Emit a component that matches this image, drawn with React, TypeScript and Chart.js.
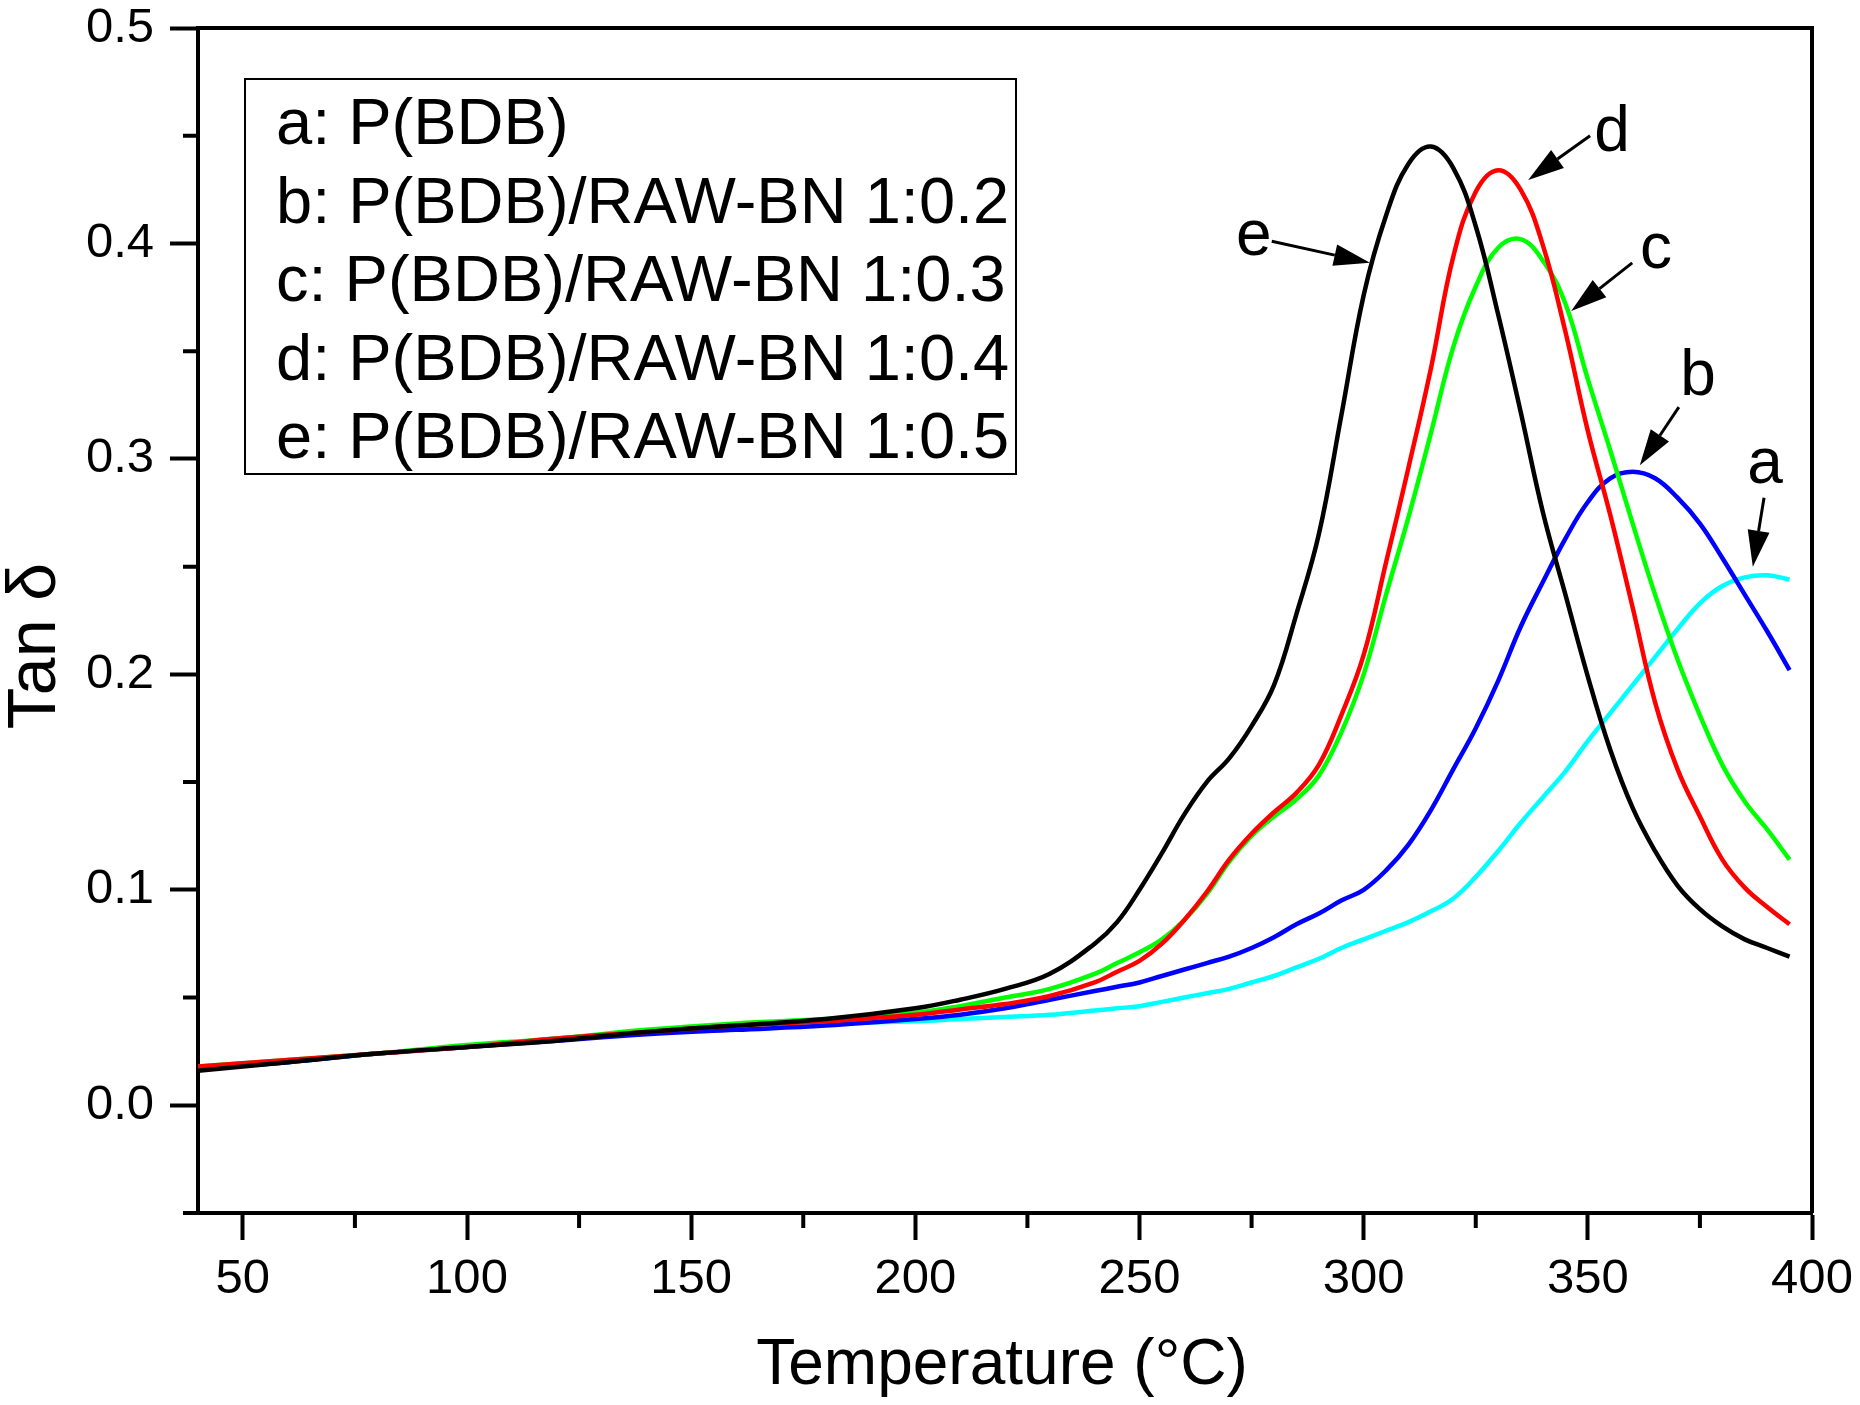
import React, { useEffect, useRef } from 'react';
import { Chart, registerables } from 'chart.js';

Chart.register(...registerables);

// temperature grid (°C) the curves were read on
const temperatures = [
  40, 60, 80, 100, 120, 140, 160, 180, 200, 210, 220, 230,
  240, 245, 250, 255, 260, 265, 270, 275, 280, 285, 290, 295,
  300, 305, 310, 315, 320, 325, 330, 335, 340, 345, 350, 355,
  360, 365, 370, 375, 380, 385, 390, 395,
];

// a: P(BDB)
const tanDeltaA = [
  0.017, 0.020, 0.024, 0.027, 0.031, 0.034, 0.036, 0.038, 0.039, 0.040, 0.041, 0.042,
  0.044, 0.045, 0.046, 0.048, 0.050, 0.052, 0.054, 0.057, 0.060, 0.064, 0.068, 0.073,
  0.077, 0.081, 0.085, 0.090, 0.096, 0.106, 0.118, 0.131, 0.143, 0.155, 0.169, 0.182,
  0.195, 0.208, 0.221, 0.233, 0.241, 0.245, 0.246, 0.244,
];

// b: 1:0.2
const tanDeltaB = [
  0.017, 0.020, 0.024, 0.027, 0.030, 0.033, 0.035, 0.037, 0.040, 0.042, 0.045, 0.049,
  0.053, 0.055, 0.057, 0.060, 0.063, 0.066, 0.069, 0.073, 0.078, 0.084, 0.089, 0.095,
  0.100, 0.109, 0.121, 0.137, 0.156, 0.175, 0.197, 0.222, 0.243, 0.263, 0.280, 0.291,
  0.294, 0.291, 0.282, 0.270, 0.254, 0.237, 0.220, 0.202,
];

// c: 1:0.3
const tanDeltaC = [
  0.018, 0.021, 0.024, 0.028, 0.031, 0.035, 0.038, 0.040, 0.043, 0.046, 0.050, 0.054,
  0.061, 0.066, 0.071, 0.077, 0.086, 0.098, 0.113, 0.125, 0.134, 0.142, 0.153, 0.173,
  0.200, 0.237, 0.273, 0.312, 0.352, 0.380, 0.398, 0.402, 0.392, 0.372, 0.337, 0.304,
  0.270, 0.237, 0.207, 0.181, 0.158, 0.141, 0.128, 0.114,
];

// d: 1:0.4
const tanDeltaD = [
  0.018, 0.021, 0.024, 0.027, 0.031, 0.034, 0.037, 0.039, 0.042, 0.0445, 0.047, 0.0507,
  0.057, 0.062, 0.067, 0.075, 0.086, 0.099, 0.114, 0.126, 0.136, 0.145, 0.158, 0.181,
  0.209, 0.252, 0.296, 0.342, 0.394, 0.424, 0.434, 0.425, 0.399, 0.359, 0.313, 0.274,
  0.231, 0.187, 0.156, 0.134, 0.114, 0.101, 0.092, 0.084,
];

// e: 1:0.5
const tanDeltaE = [
  0.016, 0.020, 0.024, 0.027, 0.030, 0.034, 0.037, 0.040, 0.045, 0.049, 0.054, 0.061,
  0.075, 0.085, 0.100, 0.117, 0.135, 0.150, 0.161, 0.176, 0.195, 0.228, 0.265, 0.320,
  0.376, 0.413, 0.437, 0.445, 0.435, 0.408, 0.367, 0.322, 0.275, 0.237, 0.199, 0.165,
  0.138, 0.118, 0.102, 0.091, 0.083, 0.077, 0.073, 0.069,
];

const legendLabels = [
  'a: P(BDB)',
  'b: P(BDB)/RAW-BN 1:0.2',
  'c: P(BDB)/RAW-BN 1:0.3',
  'd: P(BDB)/RAW-BN 1:0.4',
  'e: P(BDB)/RAW-BN 1:0.5',
];

const xMajorTicks = [50, 100, 150, 200, 250, 300, 350, 400];
const xMinorTicks = [75, 125, 175, 225, 275, 325, 375];
const yMajorTicks = [0, 0.1, 0.2, 0.3, 0.4, 0.5];
const yMinorTicks = [-0.05, 0.05, 0.15, 0.25, 0.35, 0.45];

// letter labels with arrows, in data units [temperature, tan delta]
const curveNotes = [
  { letter: 'e', at: [275.5, 0.403], from: [279.5, 0.401], to: [301.4, 0.391] },
  { letter: 'd', at: [355.4, 0.451], from: [350.5, 0.45], to: [336.7, 0.4295] },
  { letter: 'c', at: [365.2, 0.3966], from: [359.9, 0.391], to: [346.3, 0.3687] },
  { letter: 'b', at: [374.6, 0.338], from: [370.3, 0.324], to: [361.6, 0.297] },
  { letter: 'a', at: [389.5, 0.297], from: [389.3, 0.282], to: [386.8, 0.25] },
];

const FONT = "'Liberation Sans', Arial, sans-serif";

const decorPlugin = {
  id: 'decor',
  afterDraw(chart: any) {
    const { ctx, chartArea: area } = chart;
    const xs = chart.scales.x;
    const ys = chart.scales.y;
    ctx.save();

    // top and right border
    ctx.strokeStyle = '#000';
    ctx.lineWidth = 4;
    ctx.beginPath();
    ctx.moveTo(area.left, area.top);
    ctx.lineTo(area.right, area.top);
    ctx.lineTo(area.right, area.bottom);
    ctx.stroke();

    // minor ticks
    ctx.beginPath();
    xMinorTicks.forEach((v) => {
      const px = xs.getPixelForValue(v);
      ctx.moveTo(px, area.bottom);
      ctx.lineTo(px, area.bottom + 15);
    });
    yMinorTicks.forEach((v) => {
      const py = ys.getPixelForValue(v);
      ctx.moveTo(area.left, py);
      ctx.lineTo(area.left - 15, py);
    });
    ctx.stroke();

    // axis titles
    ctx.fillStyle = '#000';
    ctx.textAlign = 'center';
    ctx.textBaseline = 'middle';
    ctx.font = `64px ${FONT}`;
    ctx.fillText('Temperature (°C)', (area.left + area.right) / 2 - 3, 1366);
    ctx.save();
    ctx.translate(36, 646);
    ctx.rotate(-Math.PI / 2);
    ctx.font = `68px ${FONT}`;
    ctx.fillText('Tan δ', 0, 0);
    ctx.restore();

    // legend box (text only)
    const boxLeft = area.left + 47;
    const boxTop = area.top + 51;
    ctx.lineWidth = 2;
    ctx.strokeRect(boxLeft, boxTop, 771, 395);
    ctx.textAlign = 'left';
    ctx.font = `65px ${FONT}`;
    legendLabels.forEach((label, i) => {
      ctx.fillText(label, boxLeft + 31, boxTop + 47 + i * 78.6);
    });

    // arrows + letters
    ctx.textAlign = 'center';
    ctx.font = `64px ${FONT}`;
    ctx.lineWidth = 3;
    curveNotes.forEach((n) => {
      const tx = xs.getPixelForValue(n.at[0]);
      const ty = ys.getPixelForValue(n.at[1]);
      ctx.fillText(n.letter, tx, ty);
      const x0 = xs.getPixelForValue(n.from[0]);
      const y0 = ys.getPixelForValue(n.from[1]);
      const x1 = xs.getPixelForValue(n.to[0]);
      const y1 = ys.getPixelForValue(n.to[1]);
      const ang = Math.atan2(y1 - y0, x1 - x0);
      const headLen = 36;
      const headW = 11;
      const bx = x1 - headLen * Math.cos(ang);
      const by = y1 - headLen * Math.sin(ang);
      ctx.beginPath();
      ctx.moveTo(x0, y0);
      ctx.lineTo(bx, by);
      ctx.stroke();
      ctx.beginPath();
      ctx.moveTo(x1, y1);
      ctx.lineTo(bx + headW * Math.sin(ang), by - headW * Math.cos(ang));
      ctx.lineTo(bx - headW * Math.sin(ang), by + headW * Math.cos(ang));
      ctx.closePath();
      ctx.fill();
    });

    ctx.restore();
  },
};

const App: React.FC = () => {
  const canvasRef = useRef<HTMLCanvasElement>(null);
  const chartRef = useRef<Chart | null>(null);

  useEffect(() => {
    document.body.style.margin = '0';
    if (chartRef.current) {
      chartRef.current.destroy();
    }
    const ctx = canvasRef.current?.getContext('2d');
    if (!ctx) return;

    const toPoints = (vals: number[]) => vals.map((v, i) => ({ x: temperatures[i], y: v }));
    const line = (label: string, vals: number[], color: string) => ({
      label,
      data: toPoints(vals),
      borderColor: color,
      backgroundColor: color,
      borderWidth: 4.5,
      pointRadius: 0,
      tension: 0.4,
      fill: false,
    });

    chartRef.current = new Chart(ctx, {
      type: 'line',
      data: {
        // first dataset is painted on top
        datasets: [
          line(legendLabels[4], tanDeltaE, '#000000'),
          line(legendLabels[3], tanDeltaD, '#ff0000'),
          line(legendLabels[2], tanDeltaC, '#00ff00'),
          line(legendLabels[1], tanDeltaB, '#0000ff'),
          line(legendLabels[0], tanDeltaA, '#00ffff'),
        ],
      },
      options: {
        animation: false,
        responsive: false,
        devicePixelRatio: 1,
        layout: { padding: { top: 28, right: 48, left: 0, bottom: 0 } },
        plugins: {
          legend: { display: false },
          tooltip: { enabled: false },
        },
        scales: {
          x: {
            type: 'linear',
            min: 40,
            max: 400,
            afterBuildTicks: (scale: any) => {
              scale.ticks = xMajorTicks.map((v) => ({ value: v }));
            },
            afterFit: (scale: any) => {
              scale.height = 192;
              scale.paddingLeft = 0;
              scale.paddingRight = 0;
            },
            grid: {
              drawOnChartArea: false,
              drawTicks: true,
              tickLength: 27,
              tickWidth: 4,
              tickColor: '#000',
            },
            border: { display: true, color: '#000', width: 4 },
            ticks: {
              autoSkip: false,
              maxRotation: 0,
              padding: 10,
              color: '#000',
              font: { family: FONT, size: 49 },
              callback: (v: any) => String(v),
            },
          },
          y: {
            type: 'linear',
            min: -0.05,
            max: 0.5,
            afterBuildTicks: (scale: any) => {
              scale.ticks = yMajorTicks.map((v) => ({ value: v }));
            },
            afterFit: (scale: any) => {
              scale.width = 198;
              scale.paddingTop = 0;
              scale.paddingBottom = 0;
            },
            grid: {
              drawOnChartArea: false,
              drawTicks: true,
              tickLength: 28,
              tickWidth: 4,
              tickColor: '#000',
            },
            border: { display: true, color: '#000', width: 4 },
            ticks: {
              padding: 16,
              color: '#000',
              font: { family: FONT, size: 49 },
              callback: (v: any) => Number(v).toFixed(1),
            },
          },
        },
      },
      plugins: [decorPlugin],
    });

    return () => {
      if (chartRef.current) {
        chartRef.current.destroy();
        chartRef.current = null;
      }
    };
  }, []);

  return (
    <div style={{ width: '1860px', height: '1405px', background: '#fff' }}>
      <canvas ref={canvasRef} width={1860} height={1405}></canvas>
    </div>
  );
};

export default App;
